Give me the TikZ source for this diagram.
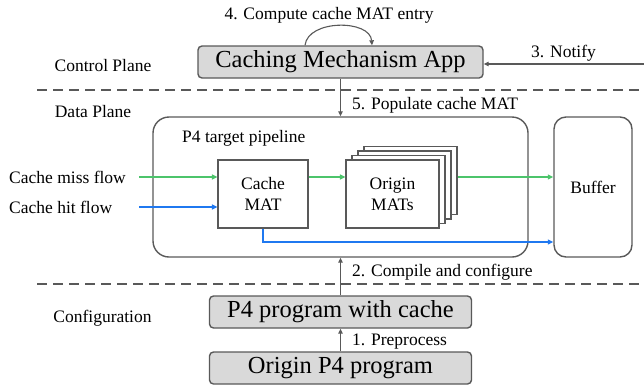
\documentclass[tikz,border=0pt]{standalone}
\usepackage{fontspec}
\setmainfont{Liberation Serif}
\usetikzlibrary{arrows.meta}
\definecolor{edgegray}{HTML}{595959}
\definecolor{boxgray}{HTML}{D9D9D9}
\definecolor{flowgreen}{HTML}{4CC46B}
\definecolor{flowblue}{HTML}{1F78F0}
\begin{document}
\begin{tikzpicture}[x=1pt,y=-1pt,
  lbl/.style={font=\fontsize{17.5}{21}\selectfont, inner sep=0pt, text=black},
  graybox/.style={draw=edgegray, fill=boxgray, line width=1.4pt, rounded corners=4pt, inner sep=0pt, font=\fontsize{24.5}{29}\selectfont},
  matbox/.style={draw=edgegray, fill=white, line width=1.2pt, inner sep=0pt, minimum height=68pt, align=center, font=\fontsize{17.5}{21}\selectfont},
  roundbox/.style={draw=edgegray, line width=1.4pt, inner sep=0pt, minimum height=140pt, font=\fontsize{17.5}{21}\selectfont},
  arr/.style={draw=edgegray, line width=1.1pt, -{Triangle[length=5pt,width=4.5pt]}},
  garr/.style={draw=flowgreen, line width=1.3pt, -{Triangle[length=5.5pt,width=5pt]}},
  barr/.style={draw=flowblue, line width=1.3pt, -{Triangle[length=5.5pt,width=5pt]}},
  dashline/.style={draw=edgegray, line width=1.6pt, dash pattern=on 10pt off 6pt},
]
\useasboundingbox (0,0) rectangle (644,389);

% control plane
\node[graybox, minimum width=285pt, minimum height=32pt] (cma) at (340.5,62) {Caching Mechanism App};
\node[lbl] (t4) at (329,15) {4. Compute cache MAT entry};
\draw[arr] ([xshift=-35.5pt]cma.north) .. controls +(3,-26) and +(-2,-26) .. ([xshift=31.5pt]cma.north);
\node[lbl] (ctrl) at (103,66) {Control Plane};
\coordinate (nr) at (644,64);
\draw[arr] (nr) -- (nr -| cma.east);
\node[lbl] (notify) at (563.5,53) {3. Notify};
\coordinate (d1a) at (37,90);
\coordinate (d1b) at (644,90);
\draw[dashline] (d1a) -- (d1b);

% data plane
\node[lbl] (dp) at (93,112) {Data Plane};
\node[roundbox, rounded corners=16pt, minimum width=375pt] (pipe) at (340.5,187) {};
\draw[arr] (cma.south) -- (pipe.north);
\node[lbl, anchor=west] (l5) at (352,105) {5. Populate cache MAT};
\node[lbl, anchor=west] (pl) at (182,138) {P4 target pipeline};
\node[matbox, minimum width=90pt] (cm) at (263,194) {Cache\\MAT};
\node[matbox, minimum width=93pt] (om3) at (410.5,180.5) {};
\node[matbox, minimum width=93pt] (om2) at (404.5,185) {};
\node[matbox, minimum width=93pt] (om1) at (398.5,189.5) {};
\node[matbox, minimum width=93pt] (om) at (392.5,194) {Origin\\MATs};
\node[roundbox, rounded corners=12pt, minimum width=78pt] (buf) at (593,187) {Buffer};

\node[lbl, anchor=west] (miss) at (9,177) {Cache miss flow};
\node[lbl, anchor=west] (hit) at (9,207) {Cache hit flow};
\coordinate (missin) at (139,177);
\coordinate (hitin) at (139,207);
\coordinate (hitrow) at (0,242);
\draw[garr] (missin) -- (missin -| cm.west);
\draw[garr] (cm.east |- missin) -- (missin -| om.west);
\draw[garr] (om3.east |- missin) -- (missin -| buf.west);
\draw[barr] (hitin) -- (hitin -| cm.west);
\draw[barr] (cm.south) |- (hitrow -| buf.west);

% configuration
\node[graybox, minimum width=262pt, minimum height=32pt] (p4c) at (340.5,312) {P4 program with cache};
\node[graybox, minimum width=262pt, minimum height=32pt] (orig) at (340.5,368) {Origin P4 program};
\draw[arr] (p4c.north) -- (pipe.south);
\node[lbl, anchor=west] (l2) at (352,272) {2. Compile and configure};
\coordinate (d2a) at (37,284);
\coordinate (d2b) at (644,284);
\draw[dashline] (d2a) -- (d2b);
\node[lbl] (conf) at (102.5,318) {Configuration};
\draw[arr] (orig.north) -- (p4c.south);
\node[lbl, anchor=west] (l1) at (352,342) {1. Preprocess};
\end{tikzpicture}
\end{document}
